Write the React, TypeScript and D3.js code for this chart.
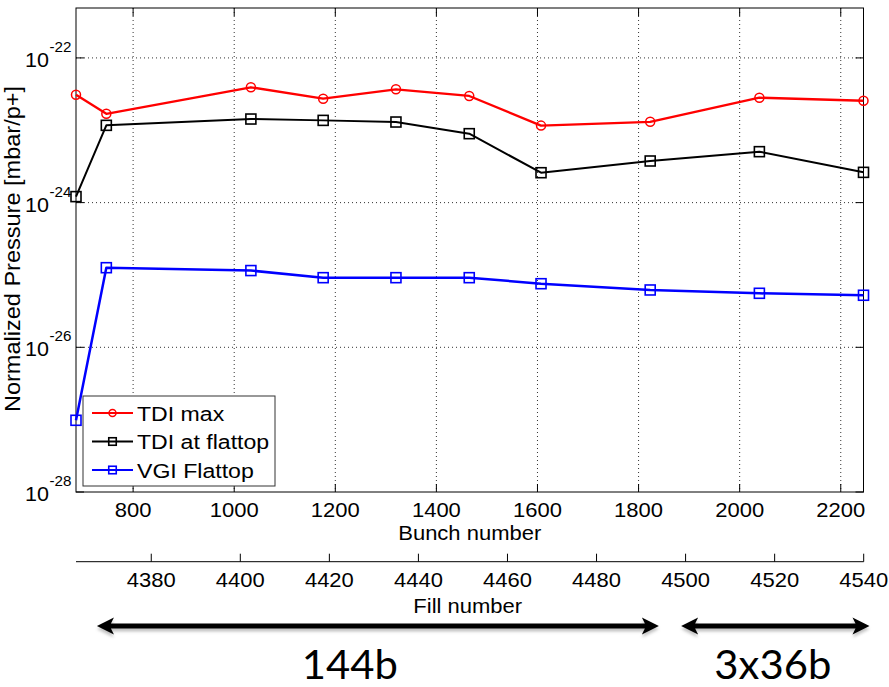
import React from "react";
import * as d3 from "d3";

const bunch = [687, 747, 1033, 1176, 1320, 1465, 1607, 1823, 2039, 2245];
const tdiMax = [3.1e-23, 1.69e-23, 3.93e-23, 2.73e-23, 3.68e-23, 2.98e-23, 1.16e-23, 1.31e-23, 2.82e-23, 2.56e-23];
const tdiFlattop = [1.21e-24, 1.17e-23, 1.43e-23, 1.37e-23, 1.3e-23, 8.97e-24, 2.59e-24, 3.76e-24, 5.06e-24, 2.62e-24];
const vgiFlattop = [9.8e-28, 1.26e-25, 1.15e-25, 9.17e-26, 9.17e-26, 9.17e-26, 7.57e-26, 6.2e-26, 5.58e-26, 5.24e-26];
const bunchTicks = [800, 1000, 1200, 1400, 1600, 1800, 2000, 2200];
const fillTicks = [4380, 4400, 4420, 4440, 4460, 4480, 4500, 4520, 4540];
const yExps = [-22, -24, -26, -28];
const seriesNames = ["TDI max", "TDI at flattop", "VGI Flattop"];
const seriesColors = ["#ff0000", "#000000", "#0000ff"];
const arrowFrom = [4367.8, 4499];
const arrowTo = [4494, 4541.3];
const arrowLabels = ["144b", "3x36b"];
const arrowLabelAt = [4424.6, 4519.6];

const W = 889, H = 687;
const L = 76, R = 863.5, T0 = 8, B = 492;
const FONT = "'Liberation Sans', Arial, sans-serif";

function Txt({ x, y, size, anchor = "middle", sx = 1.1, rot = 0, children, fill = "#000" }: any) {
  return (
    <text
      transform={`translate(${x},${y})${rot ? ` rotate(${rot})` : ""} scale(${sx},1)`}
      fontSize={size}
      textAnchor={anchor}
      fontFamily={FONT}
      fill={fill}
    >
      {children}
    </text>
  );
}

function Marker({ kind, cx, cy, color, s }: any) {
  if (kind === "circle") return <circle cx={cx} cy={cy} r={s / 2} fill="none" stroke={color} strokeWidth={1.5} />;
  return <rect x={cx - s / 2} y={cy - s / 2} width={s} height={s} fill="none" stroke={color} strokeWidth={1.6} />;
}

export default function App() {
  const x = d3.scaleLinear().domain([687, 2245]).range([L, R]);
  const y = d3.scaleLog().domain([1e-28, Math.pow(10, -21.31)]).range([B, T0]);
  const fx = d3.scaleLinear().domain([4363.1, 4540]).range([L, 863.7]);
  const series = [tdiMax, tdiFlattop, vgiFlattop];
  const kinds = ["circle", "square", "square"];
  const widths = [2.3, 2, 2.5];
  const line = d3.line<number>().x((_, i) => x(bunch[i])).y((d) => y(d));

  const arrowPath = (a: number, b: number, yy: number) => {
    const hl = 17, hh = 8.5, sw = 2.6;
    return `M${a},${yy} L${a + hl},${yy - hh} L${a + hl - 3},${yy - sw} L${b - hl + 3},${yy - sw} L${b - hl},${yy - hh} L${b},${yy} L${b - hl},${yy + hh} L${b - hl + 3},${yy + sw} L${a + hl - 3},${yy + sw} L${a + hl},${yy + hh} Z`;
  };

  const legX = 83, legY = 396, legW = 192, legH = 90;

  return (
    <svg width={W} height={H} style={{ position: "absolute", left: 0, top: 0, background: "#fff" }}>
      <defs>
        <filter id="blur" x="-5%" y="-50%" width="110%" height="200%">
          <feGaussianBlur stdDeviation="1.5" />
        </filter>
      </defs>
      <rect width={W} height={H} fill="#fff" />
      {/* grid */}
      {bunchTicks.map((t) => (
        <line key={"gx" + t} x1={x(t)} x2={x(t)} y1={T0} y2={B} stroke="#333" strokeWidth={1} strokeDasharray="1,3" />
      ))}
      {yExps.slice(0, 3).map((e) => (
        <line key={"gy" + e} x1={L} x2={R} y1={y(Math.pow(10, e))} y2={y(Math.pow(10, e))} stroke="#333" strokeWidth={1} strokeDasharray="1,3" />
      ))}
      {/* frame */}
      <rect x={L} y={T0} width={R - L} height={B - T0} fill="none" stroke="#000" strokeWidth={1} />
      {bunchTicks.map((t) => (
        <g key={"tx" + t}>
          <line x1={x(t)} x2={x(t)} y1={B} y2={B - 8} stroke="#000" />
          <line x1={x(t)} x2={x(t)} y1={T0} y2={T0 + 8} stroke="#000" />
          <Txt x={x(t)} y={517} size={20}>{t}</Txt>
        </g>
      ))}
      {yExps.map((e) => {
        const yy = y(Math.pow(10, e));
        return (
          <g key={"ty" + e}>
            <line x1={L} x2={L + 8} y1={yy} y2={yy} stroke="#000" />
            <line x1={R} x2={R - 8} y1={yy} y2={yy} stroke="#000" />
            <Txt x={49} y={yy + 9} size={20.5} anchor="end" sx={1.05}>10</Txt>
            <Txt x={49.5} y={yy - 6} size={14.5} anchor="start" sx={1.05}>{"-" + (-e)}</Txt>
          </g>
        );
      })}
      <Txt x={(L + R) / 2} y={540} size={20}>Bunch number</Txt>
      <Txt x={20} y={249} size={22} rot={-90} sx={1.07}>Normalized Pressure [mbar/p+]</Txt>
      {/* fill axis */}
      <line x1={L} x2={fx(4540)} y1={561.7} y2={561.7} stroke="#000" />
      {fillTicks.map((t) => (
        <g key={"fx" + t}>
          <line x1={fx(t)} x2={fx(t)} y1={561.7} y2={553.7} stroke="#000" />
          <Txt x={fx(t)} y={587} size={20}>{t}</Txt>
        </g>
      ))}
      <Txt x={(L + R) / 2 - 2} y={613} size={20}>Fill number</Txt>
      {/* series */}
      {series.map((s, k) => (
        <g key={"s" + k}>
          <path d={line(s) || ""} fill="none" stroke={seriesColors[k]} strokeWidth={widths[k]} strokeLinejoin="round" />
          {s.map((v, i) => (
            <Marker key={i} kind={kinds[k]} cx={x(bunch[i])} cy={y(v)} color={seriesColors[k]} s={kinds[k] === "circle" ? 9 : 10} />
          ))}
        </g>
      ))}
      {/* legend */}
      <rect x={legX} y={legY} width={legW} height={legH} fill="#fff" stroke="#333" strokeWidth={1} />
      {seriesNames.map((n, k) => {
        const yy = legY + 17 + k * 28.5;
        return (
          <g key={"lg" + k}>
            <line x1={92} x2={133} y1={yy} y2={yy} stroke={seriesColors[k]} strokeWidth={2} />
            <Marker kind={kinds[k]} cx={112.5} cy={yy} color={seriesColors[k]} s={kinds[k] === "circle" ? 7 : 7.5} />
            <Txt x={137} y={yy + 7.5} size={21} anchor="start">{n}</Txt>
          </g>
        );
      })}
      {/* arrows */}
      {arrowFrom.map((a, i) => (
        <g key={"ar" + i}>
          <path d={arrowPath(fx(a), fx(arrowTo[i]), 629)} fill="#999" filter="url(#blur)" opacity={0.6} />
          <path d={arrowPath(fx(a), fx(arrowTo[i]), 626)} fill="#000" />
          <text
            x={fx(arrowLabelAt[i])}
            y={679}
            fontSize={40}
            textAnchor="middle"
            fontFamily="Lato, 'Open Sans', sans-serif"
            textLength={i === 0 ? 96 : 117}
            lengthAdjust="spacingAndGlyphs"
          >
            {arrowLabels[i]}
          </text>
        </g>
      ))}
    </svg>
  );
}
